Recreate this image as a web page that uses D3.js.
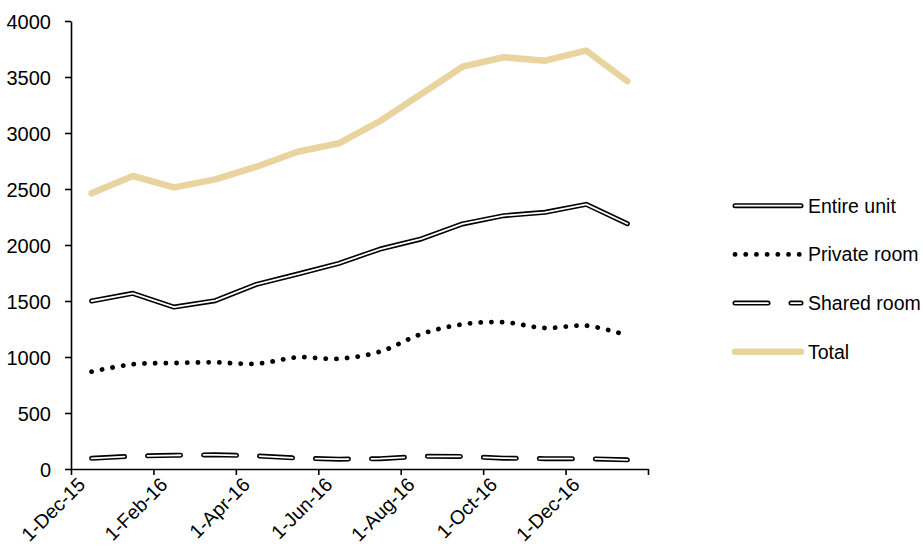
<!DOCTYPE html>
<html>
<head>
<meta charset="utf-8">
<script src="https://cdn.jsdelivr.net/npm/d3@7"></script>
<style>
  html, body { margin: 0; padding: 0; background: #fff; }
  svg { display: block; }
  text { font-family: "Liberation Sans", Arial, sans-serif; fill: #000; }
</style>
</head>
<body>
<svg id="chart" width="923" height="547"></svg>
<script>
// Monthly listings by room type, Dec-15 to Jan-17
const months = ["Dec-15","Jan-16","Feb-16","Mar-16","Apr-16","May-16","Jun-16",
                "Jul-16","Aug-16","Sep-16","Oct-16","Nov-16","Dec-16","Jan-17"];
const entireUnit  = [1500,1569,1446,1503,1649,1741,1836,1964,2054,2188,2262,2292,2363,2190];
const privateRoom = [ 869, 935, 946, 952, 940, 997, 985,1048,1205,1292,1310,1259,1280,1193];
const sharedRoom  = [  95, 115, 122, 127, 117,  97,  88,  92, 113, 112,  97,  92,  92,  82];
const total       = [2461,2616,2515,2586,2699,2833,2908,3107,3348,3592,3676,3646,3735,3462];

const yTicks = [0,500,1000,1500,2000,2500,3000,3500,4000];
// Date axis: a tick every two months from 1-Dec-15; the closing tick is unlabeled
const xTickLabels = ["1-Dec-15","1-Feb-16","1-Apr-16","1-Jun-16","1-Aug-16","1-Oct-16","1-Dec-16",""];

const svg = d3.select("#chart");

// month index scale: 0 = 1-Dec-15, 14 = 1-Feb-17; each point sits mid-month
const x = d3.scaleLinear().domain([0, 14]).range([71, 648]);
const y = d3.scaleLinear().domain([0, 4000]).range([469, 21]);

const xAxis = d3.axisBottom(x)
  .tickValues(xTickLabels.map((_, i) => i * 2))
  .tickFormat((d) => xTickLabels[d / 2])
  .tickSize(6).tickSizeOuter(0);

const yAxis = d3.axisLeft(y)
  .tickValues(yTicks)
  .tickFormat(d3.format("d"))
  .tickSize(6).tickSizeOuter(0).tickPadding(14);

const gy = svg.append("g").attr("transform", "translate(71,0)").call(yAxis);
gy.selectAll("text").style("font-size", "20px").attr("dy", "0.36em");

const gx = svg.append("g").attr("transform", "translate(0,469)").call(xAxis);
gx.selectAll("text")
  .style("font-size", "19.5px")
  .attr("text-anchor", "end")
  .attr("dy", "0.35em")
  .attr("y", 0)
  .attr("transform", "translate(10,12) rotate(-45)");

svg.selectAll(".domain, .tick line")
  .attr("stroke", "#000").attr("stroke-width", 1.6);

const pts = (vals) => vals.map((v, i) => [x(i + 0.5), y(v)]);
const straight = d3.line();
const smooth = d3.line().curve(d3.curveCatmullRom.alpha(0.5));

const plot = svg.append("g").attr("fill", "none")
  .attr("stroke-linecap", "round").attr("stroke-linejoin", "round");

// Double-rule style: a black stroke with a thin white core
function doubleLine(g, d, dash) {
  g.append("path").attr("d", d).attr("stroke", "#000").attr("stroke-width", 5)
    .attr("stroke-dasharray", dash);
  g.append("path").attr("d", d).attr("stroke", "#fff").attr("stroke-width", 1.8)
    .attr("stroke-dasharray", dash);
}
const dotStyle = (p) => p.attr("stroke", "#000").attr("stroke-width", 4.8)
  .attr("stroke-dasharray", "0.1,10.6");
const totalStyle = (p) => p.attr("stroke", "#E9D39F").attr("stroke-width", 6.5);

const SHARED_DASH = "33,23";

doubleLine(plot, straight(pts(entireUnit)), null);
dotStyle(plot.append("path").attr("d", smooth(pts(privateRoom))));
doubleLine(plot, straight(pts(sharedRoom)), SHARED_DASH);
totalStyle(plot.append("path").attr("d", straight(pts(total))));

// Legend
const legendNames = ["Entire unit", "Private room", "Shared room", "Total"];
const legend = svg.append("g").attr("fill", "none")
  .attr("stroke-linecap", "round").attr("stroke-linejoin", "round");
const ly = (i) => 205.7 + i * 48.7;
const seg = (i) => straight([[735, ly(i)], [801, ly(i)]]);

doubleLine(legend, seg(0), null);
dotStyle(legend.append("path").attr("d", seg(1)));
doubleLine(legend, seg(2), SHARED_DASH);
totalStyle(legend.append("path").attr("d", seg(3)));

svg.append("g").selectAll("text").data(legendNames).join("text")
  .attr("x", 808).attr("y", (d, i) => ly(i))
  .attr("dy", "0.36em")
  .style("font-size", "19.5px")
  .text((d) => d);
</script>
</body>
</html>
